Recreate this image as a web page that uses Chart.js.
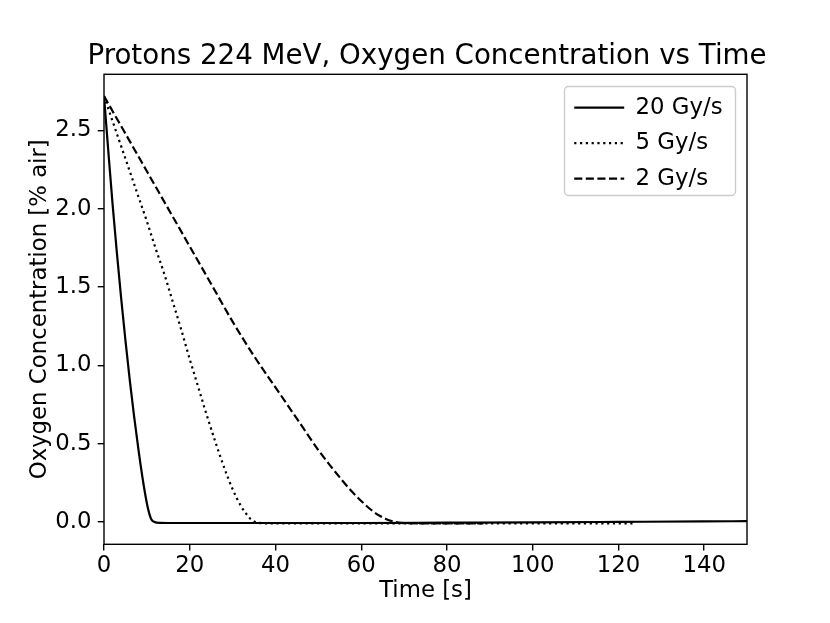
<!DOCTYPE html>
<html>
<head>
<meta charset="utf-8">
<script src="https://cdn.jsdelivr.net/npm/chart.js@4.4.0/dist/chart.umd.min.js"></script>
<style>
html,body{margin:0;padding:0;background:#fff;}
canvas{display:block;}
</style>
</head>
<body>
<canvas id="c" width="830" height="623"></canvas>
<script>
// ---------- data ----------
const titleText = 'Protons 224 MeV, Oxygen Concentration vs Time';
const xLabel = 'Time [s]';
const yLabel = 'Oxygen Concentration [% air]';
const seriesNames = ['20 Gy/s', '5 Gy/s', '2 Gy/s'];
const xTicks = [0, 20, 40, 60, 80, 100, 120, 140];
const yTicks = [0, 0.5, 1, 1.5, 2, 2.5];

const time20 = [0, 1, 2, 3, 4, 5, 6, 7, 8, 9, 10, 10.5, 11, 11.5, 12, 13, 15, 20, 30, 40, 60, 80, 100, 120, 140, 150];
const oxy20  = [2.72, 2.37, 2.03, 1.72, 1.43, 1.16, 0.91, 0.68, 0.47, 0.28, 0.12, 0.06, 0.02, 0.004, -0.002, -0.005, -0.006, -0.006, -0.006, -0.006, -0.006, -0.004, -0.002, 0.001, 0.004, 0.006];

const time5 = [0, 2, 4, 6, 8, 10, 12, 14, 16, 18, 20, 22, 24, 26, 28, 30, 32, 33, 34, 35, 36, 38, 50, 80, 100, 124];
const oxy5  = [2.72, 2.56, 2.40, 2.24, 2.08, 1.92, 1.75, 1.59, 1.41, 1.23, 1.04, 0.86, 0.68, 0.51, 0.35, 0.21, 0.10, 0.06, 0.025, 0.004, -0.005, -0.008, -0.008, -0.008, -0.008, -0.008];

const time2 = [0, 5, 10, 15, 20, 25, 30, 35, 40, 45, 50, 52.5, 55, 57.5, 60, 62, 64, 66, 68, 70, 75, 88.5];
const oxy2  = [2.72, 2.48, 2.24, 2.00, 1.76, 1.52, 1.28, 1.06, 0.86, 0.66, 0.46, 0.37, 0.285, 0.205, 0.135, 0.085, 0.045, 0.017, 0.0, -0.007, -0.008, -0.008];

const xMin = 0, xMax = 150;
const yMin = -0.142, yMax = 2.859;

// ---------- helpers ----------
const FONT = 'DejaVu Sans';
const SMALL = 22.8;
const pts = (xs, ys) => xs.map((x, i) => ({x: x, y: ys[i]}));

Chart.defaults.color = '#000';
Chart.defaults.font.family = FONT;

const frameAndBg = {
  id: 'frameAndBg',
  beforeUpdate(chart) {
    const lg = chart.legend;
    if (lg && !lg._fixedW) {
      const f = lg.fit;
      // the legend is drawn inside the plot; it only reserves the right margin
      lg.fit = function () { f.call(this); this.width = 83; };
      lg._fixedW = true;
    }
  },
  beforeDraw(chart) {
    const ctx = chart.ctx;
    ctx.save();
    ctx.fillStyle = '#fff';
    ctx.fillRect(0, 0, chart.width, chart.height);
    ctx.beginPath();
    if (ctx.roundRect) ctx.roundRect(564.5, 86.5, 171, 109, 4); else ctx.rect(564.5, 86.5, 171, 109);
    ctx.fillStyle = 'rgba(255,255,255,0.8)';
    ctx.fill();
    ctx.strokeStyle = '#cccccc';
    ctx.lineWidth = 1.4;
    ctx.stroke();
    ctx.restore();
    const lg = chart.legend;
    lg.left = 561.5; lg.top = 83.5; lg.width = 185; lg.height = 140;
    lg.right = lg.left + lg.width; lg.bottom = lg.top + lg.height;
  },
  afterDatasetsDraw(chart) {
    const a = chart.chartArea;
    const ctx = chart.ctx;
    ctx.save();
    ctx.strokeStyle = '#000';
    ctx.lineWidth = 1.4;
    ctx.strokeRect(a.left, a.top, a.right - a.left, a.bottom - a.top);
    ctx.restore();
  }
};

const lineDs = (label, xs, ys, dash) => ({
  label: label,
  data: pts(xs, ys),
  borderColor: '#000',
  backgroundColor: '#000',
  borderWidth: 2.2,
  borderDash: dash,
  borderCapStyle: 'butt',
  pointRadius: 0,
  fill: false,
  cubicInterpolationMode: 'monotone'
});

new Chart(document.getElementById('c'), {
  type: 'line',
  data: {
    datasets: [
      lineDs(seriesNames[0], time20, oxy20, []),
      lineDs(seriesNames[1], time5, oxy5, [2.2, 3.6]),
      lineDs(seriesNames[2], time2, oxy2, [8.1, 3.5])
    ]
  },
  options: {
    responsive: false,
    animation: false,
    devicePixelRatio: 1,
    layout: {padding: {left: 24, right: 0, top: 0, bottom: 0}},
    plugins: {
      title: {
        display: true,
        text: titleText,
        fullSize: true,
        align: 'center',
        color: '#000',
        font: {family: FONT, size: 27.7, weight: 'normal', lineHeight: 1},
        padding: {top: 43.2, bottom: 3.4}
      },
      legend: {
        display: true,
        position: 'right',
        align: 'start',
        fullSize: false,
        labels: {
          usePointStyle: true,
          pointStyle: 'line',
          pointStyleWidth: 50,
          padding: 12.7,
          color: '#000',
          font: {family: FONT, size: SMALL},
          generateLabels: chart => {
            const items = Chart.defaults.plugins.legend.labels.generateLabels(chart);
            items.forEach(it => {
              const ds = chart.data.datasets[it.datasetIndex];
              it.lineDash = ds.borderDash;
              it.lineWidth = ds.borderWidth;
              it.strokeStyle = ds.borderColor;
              it.lineCap = 'butt';
            });
            return items;
          }
        }
      },
      tooltip: {enabled: false}
    },
    scales: {
      x: {
        type: 'linear',
        min: xMin, max: xMax,
        afterFit: s => { s.height = 78.7; },
        afterBuildTicks: s => { s.ticks = xTicks.map(v => ({value: v})); },
        border: {display: false},
        grid: {drawOnChartArea: false, drawTicks: true, tickLength: 6.3, color: '#000', lineWidth: 1.4},
        ticks: {
          autoSkip: false, maxRotation: 0, padding: 2, color: '#000',
          font: {family: FONT, size: SMALL},
          callback: v => String(v)
        },
        title: {display: true, text: xLabel, color: '#000', font: {family: FONT, size: SMALL}, padding: {top: 0, bottom: 18.1}}
      },
      y: {
        type: 'linear',
        min: yMin, max: yMax,
        afterFit: s => { s.width = 80; },
        afterBuildTicks: s => { s.ticks = yTicks.map(v => ({value: v})); },
        border: {display: false},
        grid: {drawOnChartArea: false, drawTicks: true, tickLength: 6.3, color: '#000', lineWidth: 1.4},
        ticks: {
          padding: 6.3, color: '#000',
          font: {family: FONT, size: SMALL},
          callback: v => Number(v).toFixed(1)
        },
        title: {display: true, text: yLabel, color: '#000', font: {family: FONT, size: SMALL}, padding: {top: 2.5, bottom: 0}}
      }
    }
  },
  plugins: [frameAndBg]
});
</script>
</body>
</html>
